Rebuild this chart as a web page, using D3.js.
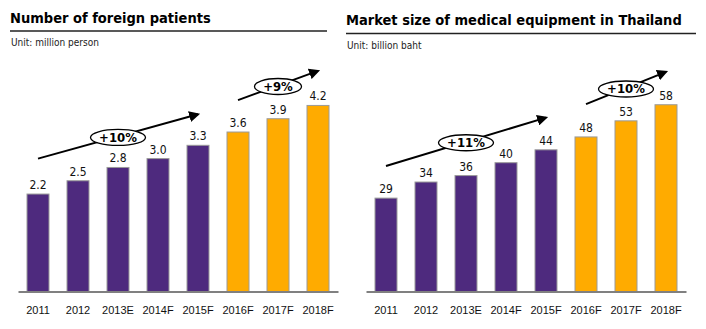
<!DOCTYPE html>
<html>
<head>
<meta charset="utf-8">
<script src="https://cdn.jsdelivr.net/npm/d3@7"></script>
<style>
  body { margin: 0; background: #fff; }
  svg { display: block; font-family: 'DejaVu Sans Condensed', 'DejaVu Sans', sans-serif; font-stretch: condensed; }
</style>
</head>
<body>
<div id="chart"></div>
<script>
// categories shared by both panels
var years = ['2011', '2012', '2013E', '2014F', '2015F', '2016F', '2017F', '2018F']
// which bars are the forecast (orange) ones
var isForecast = [false, false, false, false, false, true, true, true]

var patients = [2.2, 2.5, 2.8, 3.0, 3.3, 3.6, 3.9, 4.2]
var patientLabels = ['2.2', '2.5', '2.8', '3.0', '3.3', '3.6', '3.9', '4.2']
// growth arrows: [from index, from value, to index, to value, label]
var patientGrowth = [[0, 3.0, 4, 4.0, '+10%'], [5, 4.32, 7, 4.98, '+9%']]

var equipment = [29, 34, 36, 40, 44, 48, 53, 58]
var equipmentGrowth = [[0, 39, 4, 54, '+11%'], [5, 58.2, 7, 68.2, '+10%']]

var purple = '#4e2a7e', orange = '#ffab00'

var svg = d3.select('#chart').append('svg')
  .attr('width', 706).attr('height', 329)

svg.append('defs').append('marker')
  .attr('id', 'head')
  .attr('viewBox', '0 0 10 10')
  .attr('refX', 8).attr('refY', 5)
  .attr('markerWidth', 5.5).attr('markerHeight', 5.5)
  .attr('orient', 'auto')
  .append('path')
  .attr('d', 'M0,0 L10,5 L0,10 z')
  .attr('fill', '#000')

var panel = (opt) => {
  var g = svg.append('g')

  g.append('text')
    .attr('x', opt.left).attr('y', opt.titleY)
    .attr('font-size', 14.5).attr('font-weight', 'bold')
    .attr('fill', '#000')
    .text(opt.title)

  g.append('line')
    .attr('x1', opt.left).attr('x2', opt.ruleEnd)
    .attr('y1', opt.ruleY).attr('y2', opt.ruleY)
    .attr('stroke', '#222').attr('stroke-width', 1.5)

  g.append('text')
    .attr('x', opt.left + 1).attr('y', opt.ruleY + 15)
    .attr('font-size', 10).attr('fill', '#222')
    .text(opt.unit)

  var x = d3.scaleBand()
    .domain(years)
    .range(opt.xRange)
    .paddingInner(0.45)
    .paddingOuter(0.225)

  var y = d3.scaleLinear()
    .domain(opt.yDomain)
    .range([291.5, opt.yTop])

  g.selectAll('rect.bar')
    .data(opt.values)
    .enter()
    .append('rect')
    .attr('class', 'bar')
    .attr('x', (d, i) => x(years[i]))
    .attr('width', x.bandwidth())
    .attr('y', d => y(d))
    .attr('height', d => y(0) - y(d))
    .attr('fill', (d, i) => isForecast[i] ? orange : purple)
    .attr('stroke', '#9a9a9a')
    .attr('stroke-width', 1)

  g.selectAll('text.val')
    .data(opt.values)
    .enter()
    .append('text')
    .attr('class', 'val')
    .attr('x', (d, i) => x(years[i]) + x.bandwidth() / 2)
    .attr('y', d => y(d) - 5)
    .attr('text-anchor', 'middle')
    .attr('font-size', 12)
    .attr('fill', '#111')
    .text((d, i) => opt.labels[i])

  var axis = g.append('g')
    .attr('transform', 'translate(0,' + y(0) + ')')
    .call(d3.axisBottom(x).tickSize(0).tickPadding(15))
  axis.select('.domain').attr('stroke', '#808080').attr('stroke-width', 2)
  axis.selectAll('text')
    .attr('font-size', 11)
    .attr('fill', '#111')
    .attr('font-family', null)

  var cx = i => x(years[i]) + x.bandwidth() / 2

  opt.growth.forEach(a => {
    var x1 = cx(a[0]), y1 = y(a[1]), x2 = cx(a[2]), y2 = y(a[3])
    g.append('line')
      .attr('x1', x1).attr('y1', y1)
      .attr('x2', x2).attr('y2', y2)
      .attr('stroke', '#000').attr('stroke-width', 2)
      .attr('marker-end', 'url(#head)')
    var mx = (x1 + x2) / 2, my = (y1 + y2) / 2 + 1
    var rx = a[4].length > 3 ? 27.5 : 23.5
    g.append('ellipse')
      .attr('cx', mx).attr('cy', my)
      .attr('rx', rx).attr('ry', 8)
      .attr('fill', '#fff').attr('stroke', '#000').attr('stroke-width', 1.3)
    g.append('text')
      .attr('x', mx).attr('y', my + 4.5)
      .attr('text-anchor', 'middle')
      .attr('font-size', 13).attr('font-weight', 'bold')
      .text(a[4])
  })
}

panel({
  title: 'Number of foreign patients',
  unit: 'Unit: million person',
  left: 10, titleY: 23, ruleY: 31, ruleEnd: 327,
  xRange: [18, 338],
  yDomain: [0, 5], yTop: 70,
  values: patients,
  labels: patientLabels,
  growth: patientGrowth
})

panel({
  title: 'Market size of medical equipment in Thailand',
  unit: 'Unit: billion baht',
  left: 346, titleY: 25, ruleY: 33.5, ruleEnd: 696,
  xRange: [366, 686],
  yDomain: [0, 60], yTop: 98.3,
  values: equipment,
  labels: equipment.map(String),
  growth: equipmentGrowth
})
</script>
</body>
</html>
